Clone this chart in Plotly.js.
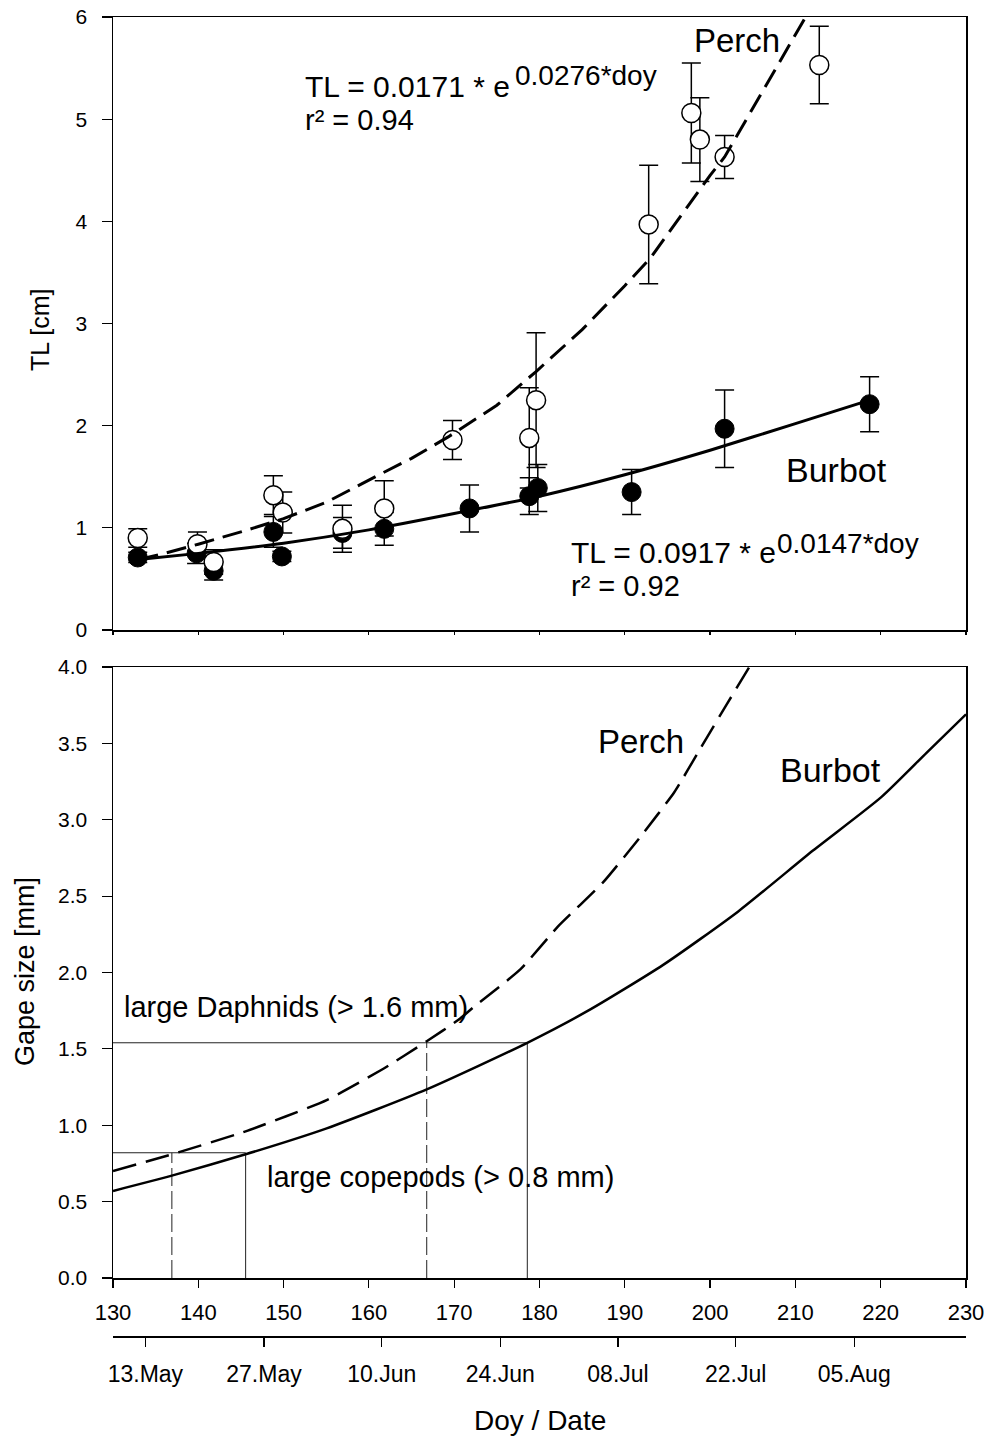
<!DOCTYPE html>
<html>
<head>
<meta charset="utf-8">
<script src="https://cdn.plot.ly/plotly-3.0.1.min.js"></script>
<style>html,body{margin:0;padding:0;background:#fff;}#chart{width:990px;height:1437px;}</style>
</head>
<body>
<div id="chart"></div>
<script>
// ---- Top panel: total length (TL, cm) by day of year ----
var perchDoy = [132.9, 139.9, 141.8, 148.8, 149.9, 156.9, 161.8, 169.8, 178.8, 179.6, 192.8, 197.8, 198.8, 201.7, 212.8];
var perchTL  = [0.90, 0.84, 0.665, 1.32, 1.15, 0.99, 1.19, 1.86, 1.88, 2.25, 3.97, 5.06, 4.80, 4.63, 5.53];
var perchSD  = [0.09, 0.12, 0.12, 0.19, 0.20, 0.23, 0.27, 0.19, 0.49, 0.66, 0.58, 0.49, 0.41, 0.21, 0.38];

var burbotDoy = [132.9, 139.8, 141.8, 148.8, 149.8, 156.9, 161.8, 171.8, 178.8, 179.8, 190.8, 201.7, 218.7];
var burbotTL  = [0.71, 0.75, 0.58, 0.96, 0.72, 0.95, 0.99, 1.19, 1.31, 1.39, 1.35, 1.97, 2.21];
var burbotSD  = [0.05, 0.10, 0.09, 0.15, 0.05, 0.15, 0.16, 0.23, 0.18, 0.23, 0.22, 0.38, 0.27];

// fitted curves
var perchFitDoy = [133, 136, 140, 145, 150, 155, 161.2, 165, 169.3, 175, 177.5, 179.6, 185, 190, 193, 195, 200, 201.7, 205, 211.2];
var perchFitTL  = [0.69, 0.75, 0.84, 0.96, 1.09, 1.25, 1.52, 1.68, 1.89, 2.20, 2.38, 2.53, 2.94, 3.37, 3.64, 3.87, 4.45, 4.63, 5.11, 6.0];
var burbotFitDoy = [133, 140, 150, 160, 170, 180, 190, 200, 210, 218.7];
var burbotFitTL  = [0.69, 0.75, 0.85, 0.98, 1.14, 1.31, 1.52, 1.76, 2.02, 2.25];

// ---- Bottom panel: gape size (mm) ----
var gapeBurbotDoy = [130, 136.9, 145.55, 155.05, 166.78, 178.57, 185.7, 194.5, 203.3, 212.1, 220.1, 225.4, 230];
var gapeBurbot    = [0.57, 0.67, 0.81, 0.98, 1.235, 1.54, 1.75, 2.05, 2.40, 2.80, 3.15, 3.44, 3.69];
var gapePerchDoy  = [130, 136.9, 145.55, 155.05, 161.7, 166.78, 170.5, 172.2, 177.75, 182.15, 187.45, 191.85, 195.8, 198.9, 202, 204.6];
var gapePerch     = [0.70, 0.81, 0.96, 1.165, 1.37, 1.55, 1.69, 1.77, 2.02, 2.30, 2.59, 2.89, 3.18, 3.47, 3.76, 4.0];

// prey size thresholds and the days the gape reaches them
var copepodSize = 0.82;
var daphnidSize = 1.54;
var perchCopepodDay = 136.9;
var burbotCopepodDay = 145.55;
var perchDaphnidDay = 166.78;
var burbotDaphnidDay = 178.57;

// ---- Date axis ----
var dateDoy = [133.8, 147.7, 161.5, 175.4, 189.2, 203.0, 216.9];
var dateLabels = ['13.May', '27.May', '10.Jun', '24.Jun', '08.Jul', '22.Jul', '05.Aug'];

var FONT = 'Liberation Sans, Arial, Helvetica, sans-serif';

var traces = [
  {x: burbotDoy, y: burbotTL, xaxis: 'x', yaxis: 'y', mode: 'markers', type: 'scatter',
   marker: {symbol: 'circle', size: 19, color: '#000', line: {color: '#000', width: 1}},
   error_y: {type: 'data', array: burbotSD, visible: true, color: '#000', thickness: 1.5, width: 9.5},
   showlegend: false, hoverinfo: 'skip'},
  {x: perchDoy, y: perchTL, xaxis: 'x', yaxis: 'y', mode: 'markers', type: 'scatter',
   marker: {symbol: 'circle', size: 19, color: '#fff', line: {color: '#000', width: 1.5}},
   error_y: {type: 'data', array: perchSD, visible: true, color: '#000', thickness: 1.5, width: 9.5},
   showlegend: false, hoverinfo: 'skip'},
  {x: burbotFitDoy, y: burbotFitTL, xaxis: 'x', yaxis: 'y', mode: 'lines', type: 'scatter',
   line: {color: '#000', width: 3, shape: 'spline', smoothing: 0.6}, showlegend: false, hoverinfo: 'skip'},
  {x: perchFitDoy, y: perchFitTL, xaxis: 'x', yaxis: 'y', mode: 'lines', type: 'scatter',
   line: {color: '#000', width: 3, dash: '20px,9px'}, showlegend: false, hoverinfo: 'skip'},

  // bottom panel threshold guides
  {x: [130, burbotDaphnidDay], y: [daphnidSize, daphnidSize], xaxis: 'x2', yaxis: 'y2', mode: 'lines', type: 'scatter',
   line: {color: '#222', width: 1}, showlegend: false, hoverinfo: 'skip'},
  {x: [130, burbotCopepodDay], y: [copepodSize, copepodSize], xaxis: 'x2', yaxis: 'y2', mode: 'lines', type: 'scatter',
   line: {color: '#222', width: 1}, showlegend: false, hoverinfo: 'skip'},
  {x: [burbotDaphnidDay, burbotDaphnidDay], y: [0, daphnidSize], xaxis: 'x2', yaxis: 'y2', mode: 'lines', type: 'scatter',
   line: {color: '#222', width: 1}, showlegend: false, hoverinfo: 'skip'},
  {x: [burbotCopepodDay, burbotCopepodDay], y: [0, copepodSize], xaxis: 'x2', yaxis: 'y2', mode: 'lines', type: 'scatter',
   line: {color: '#222', width: 1}, showlegend: false, hoverinfo: 'skip'},
  {x: [perchDaphnidDay, perchDaphnidDay], y: [0, daphnidSize], xaxis: 'x2', yaxis: 'y2', mode: 'lines', type: 'scatter',
   line: {color: '#222', width: 1, dash: '18px,5px'}, showlegend: false, hoverinfo: 'skip'},
  {x: [perchCopepodDay, perchCopepodDay], y: [0, copepodSize], xaxis: 'x2', yaxis: 'y2', mode: 'lines', type: 'scatter',
   line: {color: '#222', width: 1, dash: '18px,5px'}, showlegend: false, hoverinfo: 'skip'},

  {x: gapeBurbotDoy, y: gapeBurbot, xaxis: 'x2', yaxis: 'y2', mode: 'lines', type: 'scatter',
   line: {color: '#000', width: 2.5, shape: 'spline', smoothing: 0.6}, showlegend: false, hoverinfo: 'skip'},
  {x: gapePerchDoy, y: gapePerch, xaxis: 'x2', yaxis: 'y2', mode: 'lines', type: 'scatter',
   line: {color: '#000', width: 2.5, dash: '24px,10px', shape: 'spline', smoothing: 0.5}, showlegend: false, hoverinfo: 'skip'},

  // carrier for the date axis (no visible marks)
  {x: dateDoy, y: dateDoy.map(function () { return null; }), xaxis: 'x3', yaxis: 'y2', mode: 'markers', type: 'scatter',
   marker: {opacity: 0}, showlegend: false, hoverinfo: 'skip'}
];

var axLine = {showline: true, linecolor: '#000', linewidth: 1.5, mirror: true, showgrid: false, zeroline: false,
              tickcolor: '#000', tickwidth: 1.2};

var layout = {
  width: 990, height: 1437,
  margin: {l: 113, r: 24, t: 17, b: 101},
  paper_bgcolor: '#fff', plot_bgcolor: '#fff',
  font: {family: FONT, color: '#000', size: 20},
  showlegend: false,
  xaxis: Object.assign({}, axLine, {domain: [0, 1], anchor: 'y', range: [130, 230], tick0: 130, dtick: 10,
    ticks: 'outside', ticklen: 3, showticklabels: false}),
  yaxis: Object.assign({}, axLine, {domain: [0.53525, 1], anchor: 'x', range: [0, 6], tick0: 0, dtick: 1,
    ticks: 'outside', ticklen: 10, ticklabelstandoff: 10, tickfont: {size: 21, family: FONT}}),
  xaxis2: Object.assign({}, axLine, {domain: [0, 1], anchor: 'y2', range: [130, 230], tick0: 130, dtick: 10,
    ticks: 'outside', ticklen: 8, ticklabelstandoff: 6, tickfont: {size: 22, family: FONT}}),
  yaxis2: Object.assign({}, axLine, {domain: [0.04397, 0.50720], anchor: 'x2', range: [0, 4], tick0: 0, dtick: 0.5,
    tickformat: '.1f', ticks: 'outside', ticklen: 10, ticklabelstandoff: 10, tickfont: {size: 21, family: FONT}}),
  xaxis3: {overlaying: 'x2', anchor: 'free', position: 0, side: 'bottom', range: [130, 230],
    tickmode: 'array', tickvals: dateDoy, ticktext: dateLabels, ticks: 'outside', ticklen: 9, tickwidth: 1.2, tickcolor: '#000',
    showline: true, linecolor: '#000', linewidth: 1.5, showgrid: false, zeroline: false,
    ticklabelstandoff: 8, tickfont: {size: 23, family: FONT}},
  annotations: [
    {xref: 'x', yref: 'y', x: 152.27, y: 5.32, xanchor: 'left', yanchor: 'middle', showarrow: false,
     text: 'TL = 0.0171 * e', font: {size: 30, family: FONT}},
    {xref: 'x', yref: 'y', x: 176.9, y: 5.43, xanchor: 'left', yanchor: 'middle', showarrow: false,
     text: '0.0276*doy', font: {size: 28, family: FONT}},
    {xref: 'x', yref: 'y', x: 152.27, y: 4.99, xanchor: 'left', yanchor: 'middle', showarrow: false,
     text: 'r² = 0.94', font: {size: 29, family: FONT}},
    {xref: 'x', yref: 'y', x: 197.9, y: 5.77, xanchor: 'left', yanchor: 'middle', showarrow: false,
     text: 'Perch', font: {size: 33, family: FONT}},
    {xref: 'x', yref: 'y', x: 208.66, y: 1.57, xanchor: 'left', yanchor: 'middle', showarrow: false,
     text: 'Burbot', font: {size: 34, family: FONT}},
    {xref: 'x', yref: 'y', x: 183.4, y: 0.754, xanchor: 'left', yanchor: 'middle', showarrow: false,
     text: 'TL = 0.0917 * e', font: {size: 30, family: FONT}},
    {xref: 'x', yref: 'y', x: 207.6, y: 0.845, xanchor: 'left', yanchor: 'middle', showarrow: false,
     text: '0.0147*doy', font: {size: 28, family: FONT}},
    {xref: 'x', yref: 'y', x: 183.4, y: 0.428, xanchor: 'left', yanchor: 'middle', showarrow: false,
     text: 'r² = 0.92', font: {size: 29, family: FONT}},

    {xref: 'x2', yref: 'y2', x: 131.0, y: 1.777, xanchor: 'left', yanchor: 'middle', showarrow: false,
     text: 'large Daphnids (> 1.6 mm)', font: {size: 29, family: FONT}},
    {xref: 'x2', yref: 'y2', x: 147.8, y: 0.661, xanchor: 'left', yanchor: 'middle', showarrow: false,
     text: 'large copepods (> 0.8 mm)', font: {size: 29, family: FONT}},
    {xref: 'x2', yref: 'y2', x: 186.57, y: 3.513, xanchor: 'left', yanchor: 'middle', showarrow: false,
     text: 'Perch', font: {size: 33, family: FONT}},
    {xref: 'x2', yref: 'y2', x: 207.94, y: 3.326, xanchor: 'left', yanchor: 'middle', showarrow: false,
     text: 'Burbot', font: {size: 34, family: FONT}},

    {xref: 'paper', yref: 'paper', x: -0.0856, y: 0.7627, xanchor: 'center', yanchor: 'middle', showarrow: false,
     textangle: -90, text: 'TL [cm]', font: {size: 25, family: FONT}},
    {xref: 'paper', yref: 'paper', x: -0.1032, y: 0.2767, xanchor: 'center', yanchor: 'middle', showarrow: false,
     textangle: -90, text: 'Gape size [mm]', font: {size: 27, family: FONT}},
    {xref: 'paper', yref: 'paper', x: 0.5, y: -0.0637, xanchor: 'center', yanchor: 'middle', showarrow: false,
     text: 'Doy / Date', font: {size: 28, family: FONT}}
  ]
};

Plotly.newPlot('chart', traces, layout, {staticPlot: true, displayModeBar: false});
</script>
</body>
</html>
